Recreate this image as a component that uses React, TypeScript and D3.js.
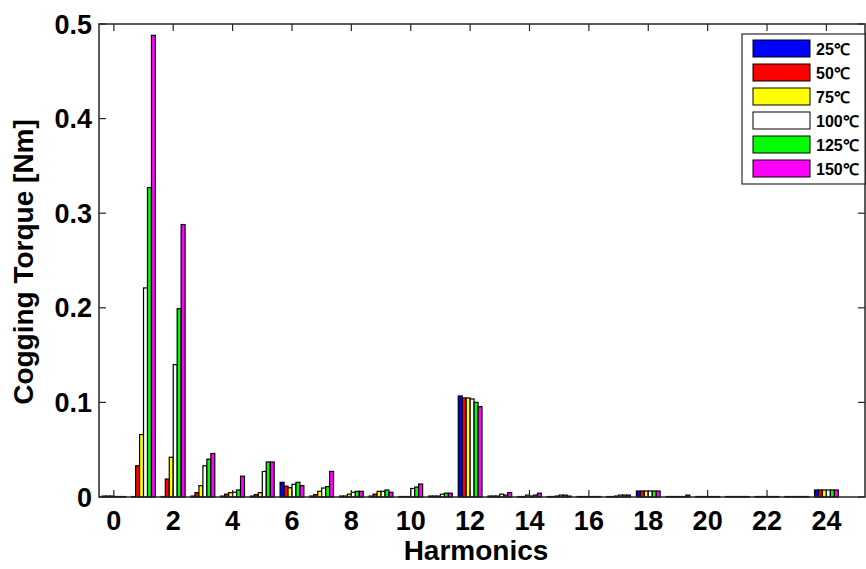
import React from "react";
import * as d3 from "d3";

const harmonics = d3.range(0, 25);
const seriesNames = ["25℃", "50℃", "75℃", "100℃", "125℃", "150℃"];
const seriesColors = ["#0000ff", "#ff0000", "#ffff00", "#ffffff", "#00ff00", "#ff00ff"];

const t25 = [0.001, 0.0005, 0.0005, 0.001, 0.001, 0.001, 0.0155, 0.001, 0.001, 0.001, 0.0005, 0.001, 0.1068, 0.001, 0.0005, 0.0005, 0.0005, 0.0005, 0.0063, 0.0005, 0.0005, 0.0005, 0.0005, 0.0005, 0.0074];
const t50 = [0.001, 0.033, 0.019, 0.0046, 0.003, 0.0025, 0.0115, 0.0025, 0.001, 0.003, 0.0005, 0.001, 0.1047, 0.001, 0.0005, 0.0005, 0.0005, 0.0005, 0.0063, 0.0005, 0.0005, 0.0005, 0.0005, 0.0005, 0.0074];
const t75 = [0.001, 0.066, 0.042, 0.012, 0.0046, 0.0046, 0.0098, 0.006, 0.003, 0.006, 0.0005, 0.001, 0.1047, 0.001, 0.002, 0.001, 0.0005, 0.001, 0.0063, 0.0005, 0.0005, 0.0005, 0.0005, 0.0005, 0.0074];
const t100 = [0.0005, 0.221, 0.14, 0.033, 0.005, 0.027, 0.0134, 0.0095, 0.005, 0.006, 0.009, 0.003, 0.1036, 0.003, 0.001, 0.002, 0.0005, 0.002, 0.0063, 0.0005, 0.0005, 0.0005, 0.0005, 0.0005, 0.0074];
const t125 = [0.0005, 0.327, 0.199, 0.04, 0.0074, 0.037, 0.0155, 0.011, 0.006, 0.0074, 0.0105, 0.004, 0.1, 0.002, 0.002, 0.002, 0.0005, 0.002, 0.0063, 0.0005, 0.0005, 0.0005, 0.0005, 0.0005, 0.0074];
const t150 = [0.0005, 0.488, 0.288, 0.046, 0.022, 0.037, 0.012, 0.027, 0.006, 0.005, 0.0137, 0.004, 0.0955, 0.0046, 0.004, 0.001, 0.0005, 0.002, 0.0063, 0.002, 0.0005, 0.0005, 0.0005, 0.0005, 0.0074];
const seriesValues = [t25, t50, t75, t100, t125, t150];

const xTicks = d3.range(0, 25, 2);
const yTicks = [0, 0.1, 0.2, 0.3, 0.4, 0.5];

const W = 866;
const H = 569;
const M = { left: 99, right: 865, top: 24, bottom: 497 };
const FONT = "'Liberation Sans', Arial, sans-serif";

export default function App() {
  const x = d3.scaleLinear().domain([-0.5, 25.3]).range([M.left, M.right]);
  const y = d3.scaleLinear().domain([0, 0.5]).range([M.bottom, M.top]);
  const n = seriesValues.length;
  const groupW = 0.8;
  const barW = groupW / n;
  const tick = 7;
  const axisColor = "#262626";

  return (
    <svg width={W} height={H} style={{ position: "absolute", left: 0, top: 0, background: "#fff" }}>
      <rect x={0} y={0} width={W} height={H} fill="#fff" />
      {seriesValues.map((vals, si) =>
        harmonics.map((h, i) => {
          const x0 = x(h - groupW / 2 + si * barW);
          const x1 = x(h - groupW / 2 + (si + 1) * barW);
          const yt = y(vals[i]);
          return (
            <rect
              key={`${si}-${i}`}
              x={x0}
              y={yt}
              width={x1 - x0}
              height={M.bottom - yt}
              fill={seriesColors[si]}
              stroke="#000"
              strokeWidth={1.2}
            />
          );
        })
      )}
      {/* frame */}
      <rect x={M.left} y={M.top} width={M.right - M.left} height={M.bottom - M.top} fill="none" stroke={axisColor} strokeWidth={1.5} />
      {xTicks.map((t) => (
        <g key={`xt${t}`}>
          <line x1={x(t)} x2={x(t)} y1={M.bottom} y2={M.bottom - tick} stroke={axisColor} strokeWidth={1.2} />
          <line x1={x(t)} x2={x(t)} y1={M.top} y2={M.top + tick} stroke={axisColor} strokeWidth={1.2} />
          <text x={x(t)} y={530} textAnchor="middle" fontFamily={FONT} fontWeight="bold" fontSize={27} fill="#000">
            {t}
          </text>
        </g>
      ))}
      {yTicks.map((t) => (
        <g key={`yt${t}`}>
          <line x1={M.left} x2={M.left + tick} y1={y(t)} y2={y(t)} stroke={axisColor} strokeWidth={1.2} />
          <line x1={M.right} x2={M.right - tick} y1={y(t)} y2={y(t)} stroke={axisColor} strokeWidth={1.2} />
          <text x={92} y={y(t) + 9.5} textAnchor="end" fontFamily={FONT} fontWeight="bold" fontSize={27} fill="#000">
            {t === 0 ? "0" : d3.format(".1f")(t)}
          </text>
        </g>
      ))}
      <text x={476} y={560} textAnchor="middle" fontFamily={FONT} fontWeight="bold" fontSize={28} fill="#000">
        Harmonics
      </text>
      <text
        transform={`translate(33,262) rotate(-90)`}
        textAnchor="middle"
        fontFamily={FONT}
        fontWeight="bold"
        fontSize={28}
        fill="#000"
      >
        Cogging Torque [Nm]
      </text>
      {/* legend */}
      <rect x={742} y={34} width={123} height={150} fill="#fff" stroke="#000" strokeWidth={1} />
      {seriesNames.map((name, i) => (
        <g key={name}>
          <rect x={753} y={40 + i * 24} width={57} height={17} fill={seriesColors[i]} stroke="#000" strokeWidth={1} />
          <text x={816} y={40 + i * 24 + 15} fontFamily={FONT} fontWeight="bold" fontSize={16} fill="#000">
            {name}
          </text>
        </g>
      ))}
    </svg>
  );
}
